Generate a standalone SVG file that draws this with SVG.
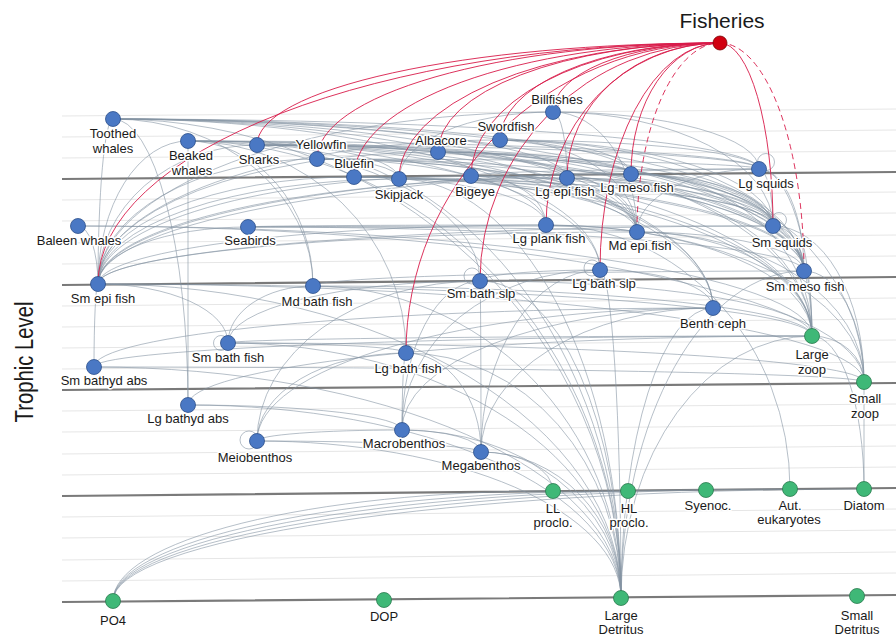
<svg xmlns="http://www.w3.org/2000/svg" width="896" height="636" viewBox="0 0 896 636">
<style>
text{font-family:"Liberation Sans",Arial,sans-serif;font-size:13px;fill:#1a1a1a;text-anchor:middle;paint-order:stroke;stroke:#fff;stroke-width:3px;stroke-linejoin:round}
.g{stroke:#e6e6e6;stroke-width:1;fill:none}
.t{stroke:#7a7a7a;stroke-width:2.2;fill:none}
.e{stroke:#8594a3;stroke-width:0.8;stroke-opacity:0.75;fill:none}
.f{stroke:#d81b4a;stroke-width:0.9;fill:none}
.fd{stroke:#d81b4a;stroke-width:0.9;fill:none;stroke-dasharray:6 4}
.b{fill:#4a78c4;stroke:#2c4f8a;stroke-width:0.8}
.n{fill:#3fb877;stroke:#2a7a4e;stroke-width:0.8}
.r{fill:#d10010;stroke:#7a0000;stroke-width:0.8}
</style>
<rect width="896" height="636" fill="#fff"/>
<g id="grid">
<path class="g" d="M62 116L896 109M62 137L896 130M62 158L896 151M62 200L896 192M62 221L896 213M62 243L896 235M62 264L896 256M62 306L896 298M62 327L896 319M62 348L896 340M62 369L896 362M62 411L896 404M62 432L896 425M62 454L896 446M62 475L896 467M62 517L896 509M62 538L896 530M62 560L896 552M62 581L896 573"/>
<path class="t" d="M62 179L896 172M62 285L896 277M62 390L896 383M62 496L896 488M62 602L896 595"/>
</g>
<text id="axis-title" transform="translate(33,362) rotate(-90) scale(0.78,1)" style="font-size:26px;stroke:none">Trophic Level</text>
<g id="connectors">
<path class="e" d="M98 284A15 165 0 0 1 113 119"/>
<path class="e" d="M113 119A646 50 0 0 1 759 169"/>
<path class="e" d="M113 119A660 107 0 0 1 773 226"/>
<path class="e" d="M113 119A691 152 0 0 1 804 271"/>
<path class="e" d="M113 119A524 113 0 0 1 637 232"/>
<path class="e" d="M113 119A518 55 0 0 1 631 174"/>
<path class="e" d="M113 119A454 59 0 0 1 567 178"/>
<path class="e" d="M113 119A600 189 0 0 1 713 308"/>
<path class="e" d="M113 119A487 151 0 0 1 600 270"/>
<path class="e" d="M113 119A75 286 0 0 1 188 405"/>
<path class="e" d="M113 119A200 167 0 0 1 313 286"/>
<path class="e" d="M113 119A508 479 0 0 1 621 598"/>
<path class="e" d="M188 141A571 28 0 0 1 759 169"/>
<path class="e" d="M188 141A585 85 0 0 1 773 226"/>
<path class="e" d="M188 141A525 167 0 0 1 713 308"/>
<path class="e" d="M188 141L188 405"/>
<path class="e" d="M188 141A125 145 0 0 1 313 286"/>
<path class="e" d="M188 141A218 212 0 0 1 406 353"/>
<path class="e" d="M188 141A292 140 0 0 1 480 281"/>
<path class="e" d="M188 141A412 129 0 0 1 600 270"/>
<path class="e" d="M188 141A616 130 0 0 1 804 271"/>
<path class="e" d="M188 141A433 457 0 0 1 621 598"/>
<path class="e" d="M98 284A90 143 0 0 1 188 141"/>
<path class="e" d="M98 284A159 139 0 0 1 257 145"/>
<path class="e" d="M257 145A502 24 0 0 1 759 169"/>
<path class="e" d="M257 145A516 81 0 0 1 773 226"/>
<path class="e" d="M257 145A310 33 0 0 1 567 178"/>
<path class="e" d="M257 145A374 29 0 0 1 631 174"/>
<path class="e" d="M257 145A380 87 0 0 1 637 232"/>
<path class="e" d="M257 145A142 34 0 0 1 399 179"/>
<path class="e" d="M257 145A547 126 0 0 1 804 271"/>
<path class="e" d="M257 145A456 163 0 0 1 713 308"/>
<path class="e" d="M257 145A364 453 0 0 1 621 598"/>
<path class="e" d="M98 284A219 125 0 0 1 317 159"/>
<path class="e" d="M317 159A456 67 0 0 1 773 226"/>
<path class="e" d="M317 159A442 10 0 0 1 759 169"/>
<path class="e" d="M317 159A487 112 0 0 1 804 271"/>
<path class="e" d="M317 159A320 73 0 0 1 637 232"/>
<path class="e" d="M317 159A229 66 0 0 1 546 225"/>
<path class="e" d="M317 159A82 20 0 0 1 399 179"/>
<path class="e" d="M317 159A495 177 0 0 1 812 336"/>
<path class="e" d="M98 284A256 107 0 0 1 354 177"/>
<path class="e" d="M354 177A419 49 0 0 1 773 226"/>
<path class="e" d="M354 177A450 94 0 0 1 804 271"/>
<path class="e" d="M354 177A283 55 0 0 1 637 232"/>
<path class="e" d="M354 177A192 48 0 0 1 546 225"/>
<path class="e" d="M354 177A458 159 0 0 1 812 336"/>
<path class="e" d="M98 284A301 105 0 0 1 399 179"/>
<path class="e" d="M399 179A374 47 0 0 1 773 226"/>
<path class="e" d="M399 179A405 92 0 0 1 804 271"/>
<path class="e" d="M399 179A413 157 0 0 1 812 336"/>
<path class="e" d="M399 179A222 419 0 0 1 621 598"/>
<path class="e" d="M98 284A340 132 0 0 1 438 152"/>
<path class="e" d="M438 152A335 74 0 0 1 773 226"/>
<path class="e" d="M438 152A366 119 0 0 1 804 271"/>
<path class="e" d="M438 152A199 80 0 0 1 637 232"/>
<path class="e" d="M438 152A374 184 0 0 1 812 336"/>
<path class="e" d="M471 176A302 50 0 0 1 773 226"/>
<path class="e" d="M471 176A333 95 0 0 1 804 271"/>
<path class="e" d="M471 176A288 7 0 0 1 759 169"/>
<path class="e" d="M471 176A166 56 0 0 1 637 232"/>
<path class="e" d="M471 176A75 49 0 0 1 546 225"/>
<path class="e" d="M98 284A373 108 0 0 1 471 176"/>
<path class="e" d="M500 140A259 29 0 0 1 759 169"/>
<path class="e" d="M500 140A273 86 0 0 1 773 226"/>
<path class="e" d="M500 140A304 131 0 0 1 804 271"/>
<path class="e" d="M500 140A137 92 0 0 1 637 232"/>
<path class="e" d="M500 140A131 34 0 0 1 631 174"/>
<path class="e" d="M98 284A402 144 0 0 1 500 140"/>
<path class="e" d="M98 284A455 172 0 0 1 553 112"/>
<path class="e" d="M553 112A220 114 0 0 1 773 226"/>
<path class="e" d="M553 112A206 57 0 0 1 759 169"/>
<path class="e" d="M399 179A154 67 0 0 1 553 112"/>
<path class="e" d="M553 112A84 120 0 0 1 637 232"/>
<path class="e" d="M553 112A14 66 0 0 1 567 178"/>
<path class="e" d="M98 284A469 106 0 0 1 567 178"/>
<path class="e" d="M567 178A206 48 0 0 1 773 226"/>
<path class="e" d="M567 178A237 93 0 0 1 804 271"/>
<path class="e" d="M567 178A70 54 0 0 1 637 232"/>
<path class="e" d="M567 178A245 158 0 0 1 812 336"/>
<path class="e" d="M98 284A533 110 0 0 1 631 174"/>
<path class="e" d="M631 174A142 52 0 0 1 773 226"/>
<path class="e" d="M631 174A173 97 0 0 1 804 271"/>
<path class="e" d="M631 174A181 162 0 0 1 812 336"/>
<path class="e" d="M631 174A233 208 0 0 1 864 382"/>
<path class="e" d="M98 284A661 115 0 0 1 759 169"/>
<path class="e" d="M759 169A14 57 0 0 1 773 226"/>
<path class="e" d="M759 169A45 102 0 0 1 804 271"/>
<path class="e" d="M759 169A53 167 0 0 1 812 336"/>
<path class="e" d="M637 232A122 63 0 0 1 759 169"/>
<path class="e" d="M78 226A20 58 0 0 1 98 284"/>
<path class="e" d="M78 226A734 110 0 0 1 812 336"/>
<path class="e" d="M78 226A786 156 0 0 1 864 382"/>
<path class="e" d="M98 284A150 57 0 0 1 248 227"/>
<path class="e" d="M248 227A525 1 0 0 1 773 226"/>
<path class="e" d="M248 227A556 44 0 0 1 804 271"/>
<path class="e" d="M248 227A389 5 0 0 1 637 232"/>
<path class="e" d="M248 227A298 2 0 0 1 546 225"/>
<path class="e" d="M546 225A266 111 0 0 1 812 336"/>
<path class="e" d="M546 225A318 157 0 0 1 864 382"/>
<path class="e" d="M546 225A244 264 0 0 1 790 489"/>
<path class="e" d="M98 284A448 59 0 0 1 546 225"/>
<path class="e" d="M98 284A539 52 0 0 1 637 232"/>
<path class="e" d="M637 232A167 39 0 0 1 804 271"/>
<path class="e" d="M637 232A175 104 0 0 1 812 336"/>
<path class="e" d="M637 232A227 150 0 0 1 864 382"/>
<path class="e" d="M98 284A675 58 0 0 1 773 226"/>
<path class="e" d="M773 226A31 45 0 0 1 804 271"/>
<path class="e" d="M773 226A39 110 0 0 1 812 336"/>
<path class="e" d="M773 226A91 156 0 0 1 864 382"/>
<path class="e" d="M98 284A714 52 0 0 1 812 336"/>
<path class="e" d="M98 284A766 98 0 0 1 864 382"/>
<path class="e" d="M94 367A4 83 0 0 1 98 284"/>
<path class="e" d="M98 284A523 314 0 0 1 621 598"/>
<path class="e" d="M228 343A85 57 0 0 1 313 286"/>
<path class="e" d="M313 286A499 50 0 0 1 812 336"/>
<path class="e" d="M313 286A491 15 0 0 1 804 271"/>
<path class="e" d="M313 286A308 312 0 0 1 621 598"/>
<path class="e" d="M402 430A78 149 0 0 1 480 281"/>
<path class="e" d="M480 281A1 171 0 0 1 481 452"/>
<path class="e" d="M257 441A223 160 0 0 1 480 281"/>
<path class="e" d="M480 281A332 55 0 0 1 812 336"/>
<path class="e" d="M480 281A141 317 0 0 1 621 598"/>
<path class="e" d="M228 343A252 62 0 0 1 480 281"/>
<path class="e" d="M480 281A120 11 0 0 1 600 270"/>
<path class="e" d="M402 430A198 160 0 0 1 600 270"/>
<path class="e" d="M481 452A119 182 0 0 1 600 270"/>
<path class="e" d="M600 270A113 38 0 0 1 713 308"/>
<path class="e" d="M600 270A21 328 0 0 1 621 598"/>
<path class="e" d="M804 271A8 65 0 0 1 812 336"/>
<path class="e" d="M804 271A60 111 0 0 1 864 382"/>
<path class="e" d="M621 598A183 327 0 0 1 804 271"/>
<path class="e" d="M402 430A311 122 0 0 1 713 308"/>
<path class="e" d="M481 452A232 144 0 0 1 713 308"/>
<path class="e" d="M257 441A456 133 0 0 1 713 308"/>
<path class="e" d="M94 367A619 59 0 0 1 713 308"/>
<path class="e" d="M621 598A92 290 0 0 1 713 308"/>
<path class="e" d="M228 343A584 7 0 0 1 812 336"/>
<path class="e" d="M228 343A636 39 0 0 1 864 382"/>
<path class="e" d="M228 343A393 255 0 0 1 621 598"/>
<path class="e" d="M98 284A130 59 0 0 1 228 343"/>
<path class="e" d="M402 430A4 77 0 0 1 406 353"/>
<path class="e" d="M406 353A75 99 0 0 1 481 452"/>
<path class="e" d="M228 343A178 10 0 0 1 406 353"/>
<path class="e" d="M406 353A215 245 0 0 1 621 598"/>
<path class="e" d="M257 441A149 88 0 0 1 406 353"/>
<path class="e" d="M94 367A718 31 0 0 1 812 336"/>
<path class="e" d="M94 367A527 231 0 0 1 621 598"/>
<path class="e" d="M94 367A770 15 0 0 1 864 382"/>
<path class="e" d="M188 405A624 69 0 0 1 812 336"/>
<path class="e" d="M188 405A433 193 0 0 1 621 598"/>
<path class="e" d="M188 405A214 25 0 0 1 402 430"/>
<path class="e" d="M257 441A145 11 0 0 1 402 430"/>
<path class="e" d="M257 441A224 11 0 0 1 481 452"/>
<path class="e" d="M257 441A364 157 0 0 1 621 598"/>
<path class="e" d="M402 430A219 168 0 0 1 621 598"/>
<path class="e" d="M402 430A79 22 0 0 1 481 452"/>
<path class="e" d="M481 452A140 146 0 0 1 621 598"/>
<path class="e" d="M481 452A72 39 0 0 1 553 491"/>
<path class="e" d="M812 336A52 46 0 0 1 864 382"/>
<path class="e" d="M812 336A52 153 0 0 1 864 489"/>
<path class="e" d="M621 598A191 262 0 0 1 812 336"/>
<path class="e" d="M864 382L864 489"/>
<path class="e" d="M113 601A440 110 0 0 1 553 491"/>
<path class="e" d="M113 601A515 110 0 0 1 628 491"/>
<path class="e" d="M113 601A593 111 0 0 1 706 490"/>
<path class="e" d="M113 601A677 112 0 0 1 790 489"/>
<path class="e" d="M113 601A751 112 0 0 1 864 489"/>
<circle class="e" cx="766" cy="162" r="8.5"/>
<circle class="e" cx="779" cy="220" r="7.5"/>
<circle class="e" cx="472" cy="276" r="8"/>
<circle class="e" cx="592" cy="268" r="8"/>
<circle class="e" cx="221" cy="343" r="7.5"/>
<circle class="e" cx="249" cy="440" r="9"/>
<path class="f" d="M98 284A622 241 0 0 1 720 43"/>
<path class="f" d="M257 145A463 102 0 0 1 720 43"/>
<path class="f" d="M317 159A403 116 0 0 1 720 43"/>
<path class="f" d="M354 177A366 134 0 0 1 720 43"/>
<path class="f" d="M399 179A321 136 0 0 1 720 43"/>
<path class="f" d="M438 152A282 109 0 0 1 720 43"/>
<path class="f" d="M471 176A249 133 0 0 1 720 43"/>
<path class="f" d="M500 140A220 97 0 0 1 720 43"/>
<path class="f" d="M553 112A167 69 0 0 1 720 43"/>
<path class="f" d="M567 178A153 135 0 0 1 720 43"/>
<path class="f" d="M631 174A89 131 0 0 1 720 43"/>
<path class="f" d="M546 225A174 182 0 0 1 720 43"/>
<path class="fd" d="M637 232A83 189 0 0 1 720 43"/>
<path class="f" d="M600 270A120 227 0 0 1 720 43"/>
<path class="f" d="M480 281A240 238 0 0 1 720 43"/>
<path class="f" d="M406 353A314 310 0 0 1 720 43"/>
<path class="f" d="M720 43A53 183 0 0 1 773 226"/>
<path class="fd" d="M720 43A84 228 0 0 1 804 271"/>
</g>
<g id="nodes">
<g id="fisheries"><circle class="r" cx="720" cy="43" r="7"/><text x="722" y="28" style="font-size:21px">Fisheries</text></g>
<g id="toothed-whales"><circle class="b" cx="113" cy="119" r="7.5"/><text x="113" y="138">Toothed</text><text x="113" y="153">whales</text></g>
<g id="beaked-whales"><circle class="b" cx="188" cy="141" r="7.5"/><text x="191" y="160">Beaked</text><text x="192" y="175">whales</text></g>
<g id="sharks"><circle class="b" cx="257" cy="145" r="7.5"/><text x="259" y="164">Sharks</text></g>
<g id="yellowfin"><circle class="b" cx="317" cy="159" r="7.5"/><text x="321" y="149">Yellowfin</text></g>
<g id="bluefin"><circle class="b" cx="354" cy="177" r="7.5"/><text x="354" y="168">Bluefin</text></g>
<g id="skipjack"><circle class="b" cx="399" cy="179" r="7.5"/><text x="399" y="199">Skipjack</text></g>
<g id="albacore"><circle class="b" cx="438" cy="152" r="7.5"/><text x="441" y="145">Albacore</text></g>
<g id="bigeye"><circle class="b" cx="471" cy="176" r="7.5"/><text x="475" y="196">Bigeye</text></g>
<g id="swordfish"><circle class="b" cx="500" cy="140" r="7.5"/><text x="506" y="131">Swordfish</text></g>
<g id="billfishes"><circle class="b" cx="553" cy="112" r="7.5"/><text x="557" y="104">Billfishes</text></g>
<g id="lg-epi-fish"><circle class="b" cx="567" cy="178" r="7.5"/><text x="565" y="196">Lg epi fish</text></g>
<g id="lg-meso-fish"><circle class="b" cx="631" cy="174" r="7.5"/><text x="637" y="192">Lg meso fish</text></g>
<g id="lg-squids"><circle class="b" cx="759" cy="169" r="7.5"/><text x="766" y="188">Lg squids</text></g>
<g id="baleen-whales"><circle class="b" cx="78" cy="226" r="7.5"/><text x="79" y="245">Baleen whales</text></g>
<g id="seabirds"><circle class="b" cx="248" cy="227" r="7.5"/><text x="250" y="245">Seabirds</text></g>
<g id="lg-plank-fish"><circle class="b" cx="546" cy="225" r="7.5"/><text x="549" y="243">Lg plank fish</text></g>
<g id="md-epi-fish"><circle class="b" cx="637" cy="232" r="7.5"/><text x="640" y="250">Md epi fish</text></g>
<g id="sm-squids"><circle class="b" cx="773" cy="226" r="7.5"/><text x="782" y="247">Sm squids</text></g>
<g id="sm-epi-fish"><circle class="b" cx="98" cy="284" r="7.5"/><text x="103" y="303">Sm epi fish</text></g>
<g id="md-bath-fish"><circle class="b" cx="313" cy="286" r="7.5"/><text x="317" y="306">Md bath fish</text></g>
<g id="sm-bath-slp"><circle class="b" cx="480" cy="281" r="7.5"/><text x="481" y="298">Sm bath slp</text></g>
<g id="lg-bath-slp"><circle class="b" cx="600" cy="270" r="7.5"/><text x="604" y="288">Lg bath slp</text></g>
<g id="sm-meso-fish"><circle class="b" cx="804" cy="271" r="7.5"/><text x="805" y="291">Sm meso fish</text></g>
<g id="benth-ceph"><circle class="b" cx="713" cy="308" r="7.5"/><text x="713" y="328">Benth ceph</text></g>
<g id="sm-bath-fish"><circle class="b" cx="228" cy="343" r="7.5"/><text x="228" y="362">Sm bath fish</text></g>
<g id="lg-bath-fish"><circle class="b" cx="406" cy="353" r="7.5"/><text x="408" y="373">Lg bath fish</text></g>
<g id="sm-bathyd-abs"><circle class="b" cx="94" cy="367" r="7.5"/><text x="104" y="385">Sm bathyd abs</text></g>
<g id="lg-bathyd-abs"><circle class="b" cx="188" cy="405" r="7.5"/><text x="188" y="423">Lg bathyd abs</text></g>
<g id="meiobenthos"><circle class="b" cx="257" cy="441" r="7.5"/><text x="255" y="462">Meiobenthos</text></g>
<g id="macrobenthos"><circle class="b" cx="402" cy="430" r="7.5"/><text x="404" y="448">Macrobenthos</text></g>
<g id="megabenthos"><circle class="b" cx="481" cy="452" r="7.5"/><text x="481" y="470">Megabenthos</text></g>
<g id="large-zoop"><circle class="n" cx="812" cy="336" r="7.5"/><text x="812" y="359">Large</text><text x="812" y="374">zoop</text></g>
<g id="small-zoop"><circle class="n" cx="864" cy="382" r="7.5"/><text x="865" y="403">Small</text><text x="865" y="418">zoop</text></g>
<g id="ll-proclo"><circle class="n" cx="553" cy="491" r="7.5"/><text x="553" y="513">LL</text><text x="553" y="527">proclo.</text></g>
<g id="hl-proclo"><circle class="n" cx="628" cy="491" r="7.5"/><text x="629" y="513">HL</text><text x="629" y="527">proclo.</text></g>
<g id="syenoc"><circle class="n" cx="706" cy="490" r="7.5"/><text x="708" y="510">Syenoc.</text></g>
<g id="aut-eukaryotes"><circle class="n" cx="790" cy="489" r="7.5"/><text x="790" y="510">Aut.</text><text x="789" y="524">eukaryotes</text></g>
<g id="diatom"><circle class="n" cx="864" cy="489" r="7.5"/><text x="864" y="510">Diatom</text></g>
<g id="po4"><circle class="n" cx="113" cy="601" r="7.5"/><text x="113" y="625">PO4</text></g>
<g id="dop"><circle class="n" cx="384" cy="600" r="7.5"/><text x="384" y="621">DOP</text></g>
<g id="large-detritus"><circle class="n" cx="621" cy="598" r="7.5"/><text x="621" y="620">Large</text><text x="621" y="634">Detritus</text></g>
<g id="small-detritus"><circle class="n" cx="857" cy="596" r="7.5"/><text x="857" y="620">Small</text><text x="857" y="634">Detritus</text></g>
</g>
</svg>
